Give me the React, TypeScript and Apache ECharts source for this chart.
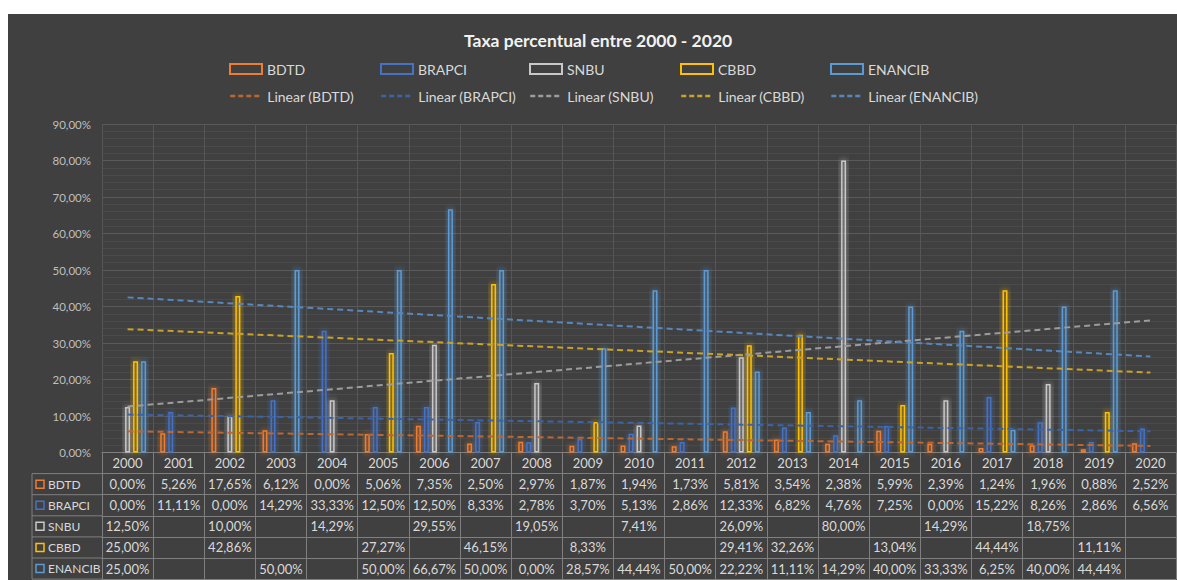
import React, { useEffect, useRef } from "react";
import * as echarts from "echarts";

const years = ["2000","2001","2002","2003","2004","2005","2006","2007","2008","2009","2010","2011","2012","2013","2014","2015","2016","2017","2018","2019","2020"];
const seriesNames = ["BDTD", "BRAPCI", "SNBU", "CBBD", "ENANCIB"];
const bdtd = [0.0, 5.26, 17.65, 6.12, 0.0, 5.06, 7.35, 2.5, 2.97, 1.87, 1.94, 1.73, 5.81, 3.54, 2.38, 5.99, 2.39, 1.24, 1.96, 0.88, 2.52];
const brapci = [0.0, 11.11, 0.0, 14.29, 33.33, 12.5, 12.5, 8.33, 2.78, 3.7, 5.13, 2.86, 12.33, 6.82, 4.76, 7.25, 0.0, 15.22, 8.26, 2.86, 6.56];
const snbu = [12.5, null, 10.0, null, 14.29, null, 29.55, null, 19.05, null, 7.41, null, 26.09, null, 80.0, null, 14.29, null, 18.75, null, null];
const cbbd = [25.0, null, 42.86, null, null, 27.27, null, 46.15, null, 8.33, null, null, 29.41, 32.26, null, 13.04, null, 44.44, null, 11.11, null];
const enancib = [25.0, null, null, 50.0, null, 50.0, 66.67, 50.0, 0.0, 28.57, 44.44, 50.0, 22.22, 11.11, 14.29, 40.0, 33.33, 6.25, 40.0, 44.44, null];
// Linear trend lines, endpoints (2000 and 2020)
const trendStart = [5.8, 10.4, 12.6, 33.8, 42.5];
const trendEnd = [1.8, 5.8, 36.2, 21.9, 26.3];

const barColors = ["#ED7D31", "#4472C4", "#C8C8C8", "#FFC000", "#5B9BD5"];
const trendColors = ["#BC6732", "#3A63A8", "#9C9C9C", "#C9A227", "#5687BE"];

const values = [bdtd, brapci, snbu, cbbd, enancib];

const FONT = "Lato";
const GRID_LEFT = 94;
const GRID_TOP = 110;
const GRID_BOTTOM_Y = 438.5;
const CHART_H = 566;
const ROW_H = 21.1;
const BORDER = "#7f7f7f";
const TEXT = "#d9d9d9";

const fmt = (v: number | null) => (v == null ? "" : v.toFixed(2).replace(".", ",") + "%");

export default function App() {
  const ref = useRef<HTMLDivElement>(null);
  useEffect(() => {
    if (!ref.current) return;
    const chart = echarts.init(ref.current, undefined, { renderer: "svg" });

    const tableAxis = (i: number) => ({
      type: "category",
      gridIndex: 0,
      position: "bottom",
      data: years,
      offset: ROW_H * (i + 1),
      axisLine: { show: true, onZero: false, lineStyle: { color: BORDER, width: 1 } },
      axisTick: { show: true, length: ROW_H, lineStyle: { color: BORDER, width: 1 } },
      axisLabel: {
        interval: 0,
        margin: 4,
        color: TEXT,
        fontSize: 13,
        fontFamily: FONT,
        formatter: (_v: string, idx: number) => fmt(values[i][idx] as number | null),
      },
      splitLine: { show: false },
    });

    const legendX = [221, 372, 521, 672, 822];
    const legends: any[] = [];
    seriesNames.forEach((n, i) => {
      legends.push({
        data: [n],
        left: legendX[i],
        top: 48,
        icon: "rect",
        itemWidth: 32,
        itemHeight: 10,
        padding: 0,
        selectedMode: false,
        textStyle: { color: TEXT, fontSize: 14, fontFamily: FONT },
      });
      legends.push({
        data: ["Linear (" + n + ")"],
        left: legendX[i],
        top: 75,
        itemWidth: 32,
        itemHeight: 10,
        padding: 0,
        selectedMode: false,
        itemStyle: { color: "rgba(0,0,0,0)", borderColor: "rgba(0,0,0,0)", borderWidth: 0, opacity: 0 },
        lineStyle: { width: 2.5, type: [5, 3] },
        textStyle: { color: TEXT, fontSize: 14, fontFamily: FONT },
      });
    });

    const graphics: any[] = [];
    const colLeft = 24;
    const rowTop = (k: number) => GRID_BOTTOM_Y + k * ROW_H;
    graphics.push({
      type: "line",
      shape: { x1: colLeft, y1: rowTop(1), x2: colLeft, y2: rowTop(6) },
      style: { stroke: BORDER, lineWidth: 1 },
    });
    for (let k = 1; k <= 6; k++) {
      graphics.push({
        type: "line",
        shape: { x1: colLeft, y1: rowTop(k), x2: GRID_LEFT, y2: rowTop(k) },
        style: { stroke: BORDER, lineWidth: 1 },
      });
    }
    seriesNames.forEach((n, i) => {
      const cy = rowTop(i + 1) + ROW_H / 2;
      graphics.push({
        type: "rect",
        shape: { x: colLeft + 4, y: cy - 4, width: 8, height: 8 },
        style: { fill: "none", stroke: barColors[i], lineWidth: 1.5 },
      });
      graphics.push({
        type: "text",
        x: colLeft + 16,
        y: cy,
        style: { text: n, fill: TEXT, fontSize: 12, fontFamily: FONT, verticalAlign: "middle", align: "left" },
      });
    });

    const series: any[] = [];
    seriesNames.forEach((n, i) => {
      series.push({
        name: n,
        type: "bar",
        data: values[i],
        barWidth: 5,
        barGap: "60%",
        itemStyle: {
          color: "rgba(0,0,0,0)",
          borderColor: barColors[i],
          borderWidth: 1.5,
          shadowBlur: 6,
          shadowColor: barColors[i],
        },
        emphasis: { disabled: true },
      });
    });
    seriesNames.forEach((n, i) => {
      series.push({
        name: "Linear (" + n + ")",
        type: "line",
        data: [[years[0], trendStart[i]], [years[years.length - 1], trendEnd[i]]],
        symbol: "none",
        z: 5,
        lineStyle: { color: trendColors[i], width: 2, type: [6, 4] },
        itemStyle: { color: trendColors[i] },
        emphasis: { disabled: true },
      });
    });

    chart.setOption({
      animation: false,
      backgroundColor: "#404040",
      textStyle: { fontFamily: FONT },
      title: {
        text: "Taxa percentual entre 2000 - 2020",
        left: 451,
        top: 12,
        textStyle: { color: "#f2f2f2", fontSize: 17.5, fontWeight: "bold", fontFamily: FONT },
      },
      legend: legends,
      grid: {
        left: GRID_LEFT,
        right: 1,
        top: GRID_TOP,
        bottom: CHART_H - GRID_BOTTOM_Y,
        containLabel: false,
        outerBoundsMode: "none",
      },
      xAxis: [
        {
          type: "category",
          gridIndex: 0,
          position: "bottom",
          data: years,
          offset: 0,
          axisLine: { show: true, onZero: false, lineStyle: { color: BORDER, width: 1 } },
          axisTick: { show: true, length: ROW_H, lineStyle: { color: BORDER, width: 1 } },
          axisLabel: { interval: 0, margin: 4, color: TEXT, fontSize: 13, fontFamily: FONT },
          splitLine: { show: true, interval: 0, lineStyle: { color: "#565656", width: 1 } },
        },
        ...seriesNames.map((_n, i) => tableAxis(i)),
        {
          type: "category",
          gridIndex: 0,
          position: "bottom",
          data: years,
          offset: ROW_H * 6,
          axisLine: { show: true, onZero: false, lineStyle: { color: BORDER, width: 1 } },
          axisTick: { show: false },
          axisLabel: { show: false },
          splitLine: { show: false },
        },
      ],
      yAxis: {
        type: "value",
        min: 0,
        max: 90,
        interval: 10,
        axisLine: { show: false },
        axisTick: { show: false },
        axisLabel: {
          margin: 11,
          color: "#bfbfbf",
          fontSize: 11.5,
          fontFamily: FONT,
          formatter: (v: number) => v.toFixed(2).replace(".", ",") + "%",
        },
        splitLine: { show: true, lineStyle: { color: "#5a5a5a", width: 1 } },
        minorTick: { show: false, splitNumber: 5 },
        minorSplitLine: { show: true, lineStyle: { color: "#4a4a4a", width: 1 } },
      },
      series,
      graphic: graphics,
    });
    return () => chart.dispose();
  }, []);
  return (
    <div
      ref={ref}
      style={{ position: "absolute", left: 8, top: 14, width: 1169, height: CHART_H }}
    />
  );
}
